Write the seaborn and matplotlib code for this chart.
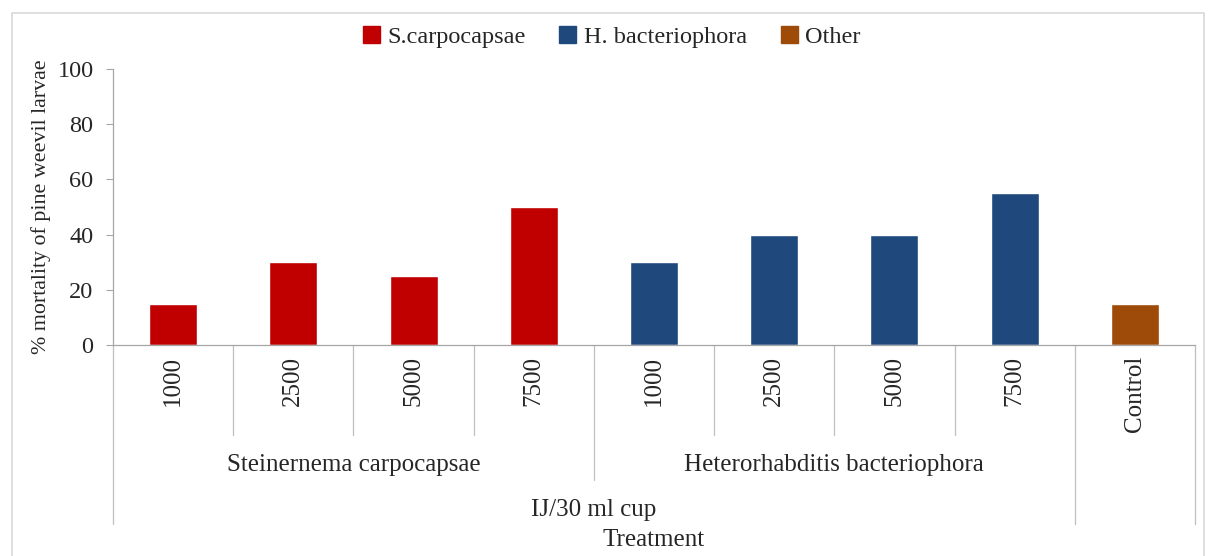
import pandas as pd
import numpy as np
import matplotlib
matplotlib.use("Agg")
import matplotlib.pyplot as plt
from matplotlib.patches import Rectangle
import seaborn as sns

# data
doses = ["1000", "2500", "5000", "7500", "1000", "2500", "5000", "7500", "Control"]
species = ["S.carpocapsae"] * 4 + ["H. bacteriophora"] * 4 + ["Other"]
mortality = [15, 30, 25, 50, 30, 40, 40, 55, 15]
group_names = ["Steinernema carpocapsae", "Heterorhabditis bacteriophora"]
legend_order = ["S.carpocapsae", "H. bacteriophora", "Other"]
colors = {"S.carpocapsae": "#C00000", "H. bacteriophora": "#1F497D", "Other": "#9E4A08"}

slots = ["{}_{}".format(i, d) for i, d in enumerate(doses)]
df = pd.DataFrame({"slot": slots, "dose": doses, "species": species, "mortality": mortality})

sns.set_theme(style="white")
plt.rcParams["font.family"] = ["Liberation Serif", "DejaVu Serif"]
plt.rcParams["font.size"] = 18

W, H = 1211, 556
fig = plt.figure(figsize=(W / 100, H / 100), dpi=100)
ax_l, ax_r, ax_t, ax_b = 113, 1195, 69, 345
ax = fig.add_axes([ax_l / W, 1 - ax_b / H, (ax_r - ax_l) / W, (ax_b - ax_t) / H])

sns.barplot(data=df, x="slot", y="mortality", hue="species", order=slots,
            hue_order=legend_order, palette=colors, width=0.4, dodge=False,
            saturation=1, errorbar=None, legend=False, ax=ax)

ax.set_xlim(-0.5, len(slots) - 0.5)
ax.set_ylim(0, 100)
ax.set_yticks(np.arange(0, 101, 20))
ax.tick_params(axis="y", labelsize=17.5, length=5, width=0.8, color="#A6A6A6", pad=9,
               left=True, direction="out")
ax.set_xticks(range(len(slots)))
ax.set_xticklabels(doses, rotation=90, fontsize=18)
ax.tick_params(axis="x", length=0, pad=8)
ax.set_xlabel("")
ax.set_ylabel("% mortality of pine weevil larvae", fontsize=15.8)
ax.yaxis.set_label_coords(-(ax_l - 51) / (ax_r - ax_l), 0.5)

for s in ["top", "right"]:
    ax.spines[s].set_visible(False)
for s in ["left", "bottom"]:
    ax.spines[s].set_color("#A6A6A6")
    ax.spines[s].set_linewidth(0.9)

# multi-level category axis
def yfrac(py):
    return (ax_b - py) / (ax_b - ax_t)

tr = ax.get_xaxis_transform()
line_kw = dict(color="#BFBFBF", lw=0.9, clip_on=False, transform=tr)
for b in [0.5, 1.5, 2.5, 4.5, 5.5, 6.5]:
    ax.plot([b, b], [0, yfrac(435)], **line_kw)
ax.plot([3.5, 3.5], [0, yfrac(480)], **line_kw)
for b in [-0.5, 7.5, 8.5]:
    ax.plot([b, b], [0, yfrac(524)], **line_kw)

ax.text(1.5, yfrac(465), group_names[0], transform=tr, ha="center", va="center", fontsize=18)
ax.text(5.5, yfrac(465), group_names[1], transform=tr, ha="center", va="center", fontsize=18)
ax.text(3.5, yfrac(510), "IJ/30 ml cup", transform=tr, ha="center", va="center", fontsize=18)
ax.text(4.0, yfrac(540), "Treatment", transform=tr, ha="center", va="center", fontsize=18)

# legend
handles = [Rectangle((0, 0), 1, 1, color=colors[k]) for k in legend_order]
fig.legend(handles, legend_order, loc="center", bbox_to_anchor=(0.505, 1 - 37 / H),
           ncol=3, frameon=False, fontsize=17.5, handlelength=0.7, handleheight=0.7,
           handletextpad=0.3, columnspacing=1.4)

# chart area border
fig.patches.append(Rectangle((12 / W, -0.01), (1204 - 12) / W, (H - 13) / H + 0.01,
                             transform=fig.transFigure, fill=False, ec="#D9D9D9", lw=1.2))

fig.savefig("out.png", dpi=100)
